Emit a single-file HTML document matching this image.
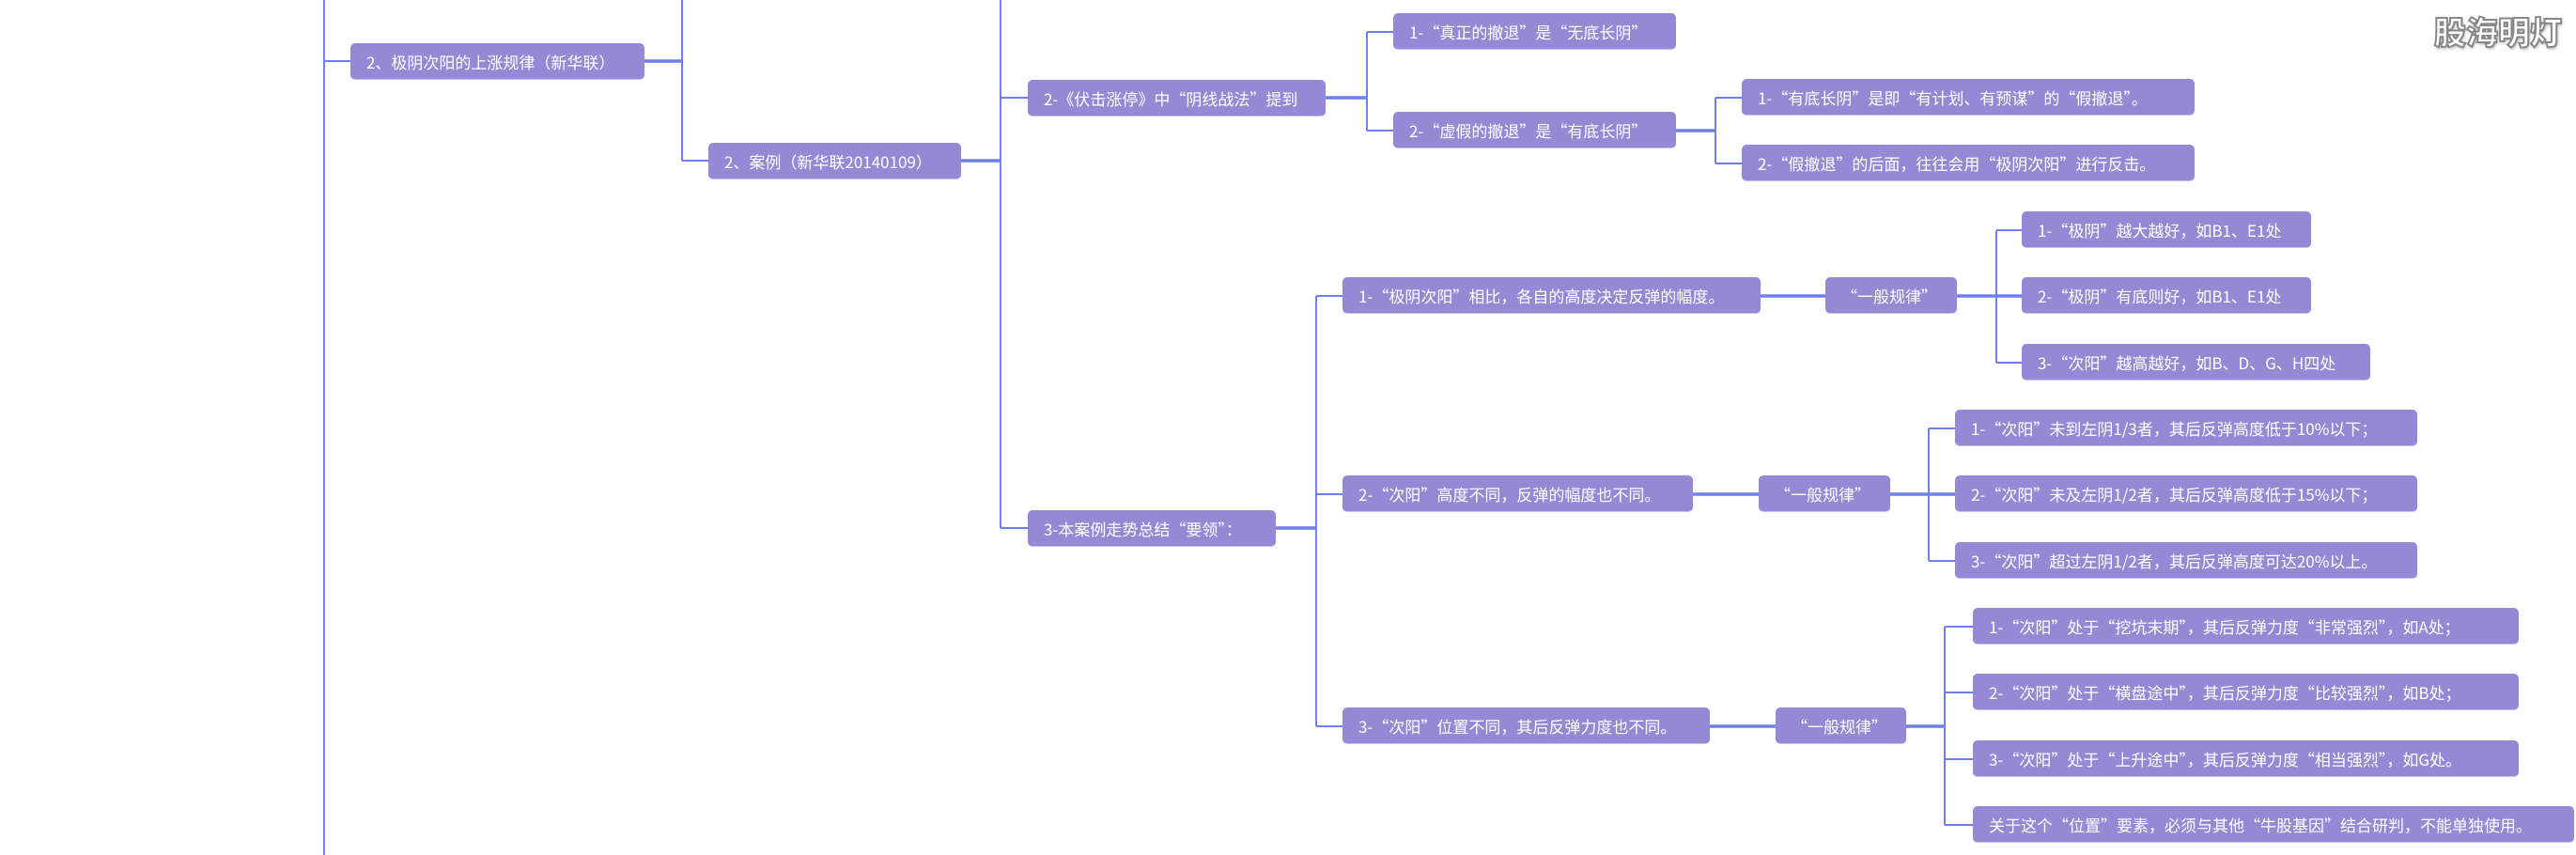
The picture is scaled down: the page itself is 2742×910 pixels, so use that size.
<!DOCTYPE html>
<html><head><meta charset="utf-8"><style>
html,body{margin:0;padding:0;background:#fff;}
body{width:2742px;height:910px;position:relative;overflow:hidden;font-family:"Noto Sans CJK SC","Liberation Sans",sans-serif;}
.n{position:absolute;background:#9589d5;color:#fff;font-size:17px;line-height:39px;height:39px;border-radius:5px;box-sizing:border-box;padding-left:17px;white-space:nowrap;border-bottom:1px solid #c5c0ea;}
svg{position:absolute;left:0;top:0;}
.wm{position:absolute;left:2591px;top:8px;font-size:34px;font-weight:900;color:#fff;-webkit-text-stroke:2px #888;text-shadow:1px 2px 3px #aaa;font-family:"Noto Sans CJK SC",sans-serif;}
</style></head><body>
<svg width="2742" height="910" fill="none" stroke="#6f7ff0">
<g stroke-width="2">
<path d="M345 0V910M345 65H373"/>
<path d="M726 0V171M726 171H754"/>
<path d="M1065 0V562M1065 104H1094M1065 562H1094"/>
<path d="M1455 34V139M1455 34H1483M1455 139H1483"/>
<path d="M1826 104V174M1826 104H1854M1826 174H1854"/>
<path d="M1401 315V773M1401 315H1429M1401 526H1429M1401 773H1429"/>
<path d="M2125 245V386M2125 245H2152M2125 386H2152"/>
<path d="M2053 456V597M2053 456H2081M2053 597H2081"/>
<path d="M2070 667V878M2070 667H2100M2070 737H2100M2070 808H2100M2070 878H2100"/>
</g>
<g stroke-width="3.5">
<path d="M686 65H726"/>
<path d="M1023 171H1065"/>
<path d="M1411 104H1455"/>
<path d="M1784 139H1826"/>
<path d="M1358 562H1401"/>
<path d="M1874 315H1943M2083 315H2152"/>
<path d="M1802 526H1872M2012 526H2081"/>
<path d="M1820 773H1890M2029 773H2070"/>
</g>
</svg>
<div class="n" style="left:373px;top:46px;width:313px">2、极阴次阳的上涨规律（新华联）</div>
<div class="n" style="left:754px;top:152px;width:269px">2、案例（新华联20140109）</div>
<div class="n" style="left:1094px;top:85px;width:317px">2-《伏击涨停》中“阴线战法”提到</div>
<div class="n" style="left:1094px;top:543px;width:264px">3-本案例走势总结“要领”：</div>
<div class="n" style="left:1483px;top:14px;width:301px">1-“真正的撤退”是“无底长阴”</div>
<div class="n" style="left:1483px;top:119px;width:301px">2-“虚假的撤退”是“有底长阴”</div>
<div class="n" style="left:1854px;top:84px;width:482px">1-“有底长阴”是即“有计划、有预谋”的“假撤退”。</div>
<div class="n" style="left:1854px;top:154px;width:482px">2-“假撤退”的后面，往往会用“极阴次阳”进行反击。</div>
<div class="n" style="left:1429px;top:295px;width:445px">1-“极阴次阳”相比，各自的高度决定反弹的幅度。</div>
<div class="n" style="left:1943px;top:295px;width:140px">“一般规律”</div>
<div class="n" style="left:2152px;top:225px;width:308px">1-“极阴”越大越好，如B1、E1处</div>
<div class="n" style="left:2152px;top:295px;width:308px">2-“极阴”有底则好，如B1、E1处</div>
<div class="n" style="left:2152px;top:366px;width:371px">3-“次阳”越高越好，如B、D、G、H四处</div>
<div class="n" style="left:1429px;top:506px;width:373px">2-“次阳”高度不同，反弹的幅度也不同。</div>
<div class="n" style="left:1872px;top:506px;width:140px">“一般规律”</div>
<div class="n" style="left:2081px;top:436px;width:492px">1-“次阳”未到左阴1/3者，其后反弹高度低于10%以下；</div>
<div class="n" style="left:2081px;top:506px;width:492px">2-“次阳”未及左阴1/2者，其后反弹高度低于15%以下；</div>
<div class="n" style="left:2081px;top:577px;width:492px">3-“次阳”超过左阴1/2者，其后反弹高度可达20%以上。</div>
<div class="n" style="left:1429px;top:753px;width:391px">3-“次阳”位置不同，其后反弹力度也不同。</div>
<div class="n" style="left:1890px;top:753px;width:139px">“一般规律”</div>
<div class="n" style="left:2100px;top:647px;width:581px">1-“次阳”处于“挖坑末期”，其后反弹力度“非常强烈”，如A处；</div>
<div class="n" style="left:2100px;top:717px;width:581px">2-“次阳”处于“横盘途中”，其后反弹力度“比较强烈”，如B处；</div>
<div class="n" style="left:2100px;top:788px;width:581px">3-“次阳”处于“上升途中”，其后反弹力度“相当强烈”，如G处。</div>
<div class="n" style="left:2100px;top:858px;width:640px">关于这个“位置”要素，必须与其他“牛股基因”结合研判，不能单独使用。</div>
<div class="wm">股海明灯</div>
</body></html>
